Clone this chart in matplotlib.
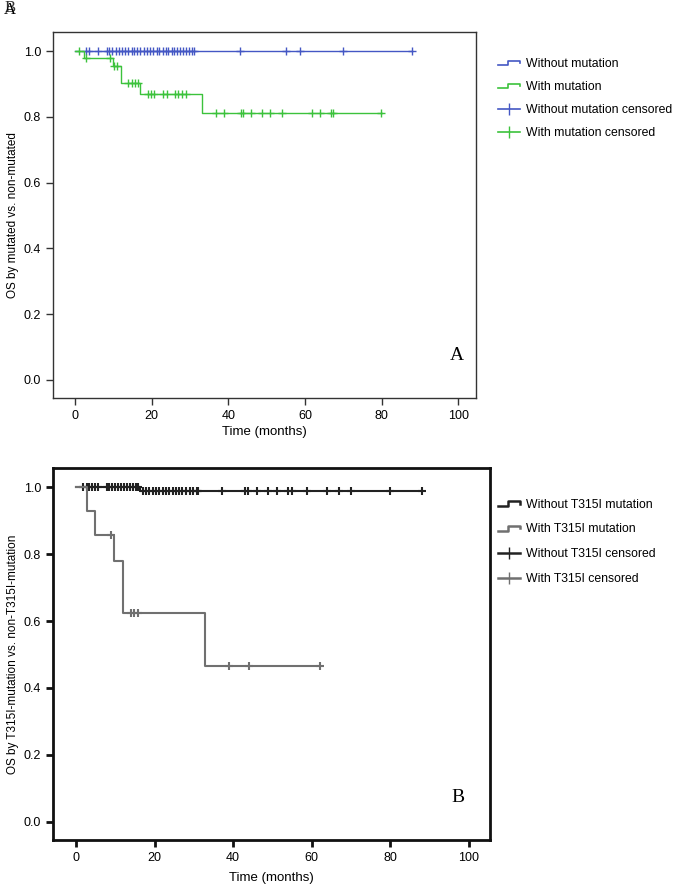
import numpy as np
import matplotlib.pyplot as plt
from matplotlib.lines import Line2D
from matplotlib.legend_handler import HandlerBase

plt.rcParams['font.family'] = ['Liberation Sans', 'DejaVu Sans']

# Panel A: all mutations
a_wo_times = [0, 88]
a_wo_surv = [1.0, 1.0]
a_wo_cens = [2.9, 3.7, 6.1, 8.3, 9.0, 9.7, 10.6, 11.5, 12.3, 13.1, 13.9, 14.8,
             15.5, 16.3, 17.1, 18.1, 18.7, 19.6, 20.4, 21.3, 22.0, 22.9, 23.7,
             24.4, 25.2, 25.9, 26.7, 27.4, 28.2, 28.9, 29.7, 30.5, 31.1,
             43.1, 55.1, 58.7, 69.9, 87.9]
a_w_times = [0, 2.3, 10.0, 11.9, 17.0, 33.1, 80.0]
a_w_surv = [1.0, 0.979, 0.955, 0.902, 0.869, 0.811, 0.811]
a_w_cens = [1.0, 2.9, 9.1, 10.3, 11.0, 13.9, 15.0, 15.7, 16.4, 19.0, 19.8, 20.7,
            23.1, 23.9, 26.1, 27.0, 27.8, 28.9, 36.8, 38.8, 43.2, 43.9, 45.9,
            48.7, 50.9, 53.9, 61.9, 64.0, 66.7, 67.2, 79.9]

# Panel B: T315I
b_wo_times = [0, 16.3, 88.2]
b_wo_surv = [1.0, 0.99, 0.99]
b_wo_cens = [1.7, 2.7, 3.4, 4.2, 4.9, 5.7, 7.8, 8.5, 9.2, 10.0, 10.8, 11.5, 12.3,
             13.1, 13.7, 14.6, 15.3, 15.9, 17.1, 17.8, 18.7, 19.5, 20.4, 21.2,
             22.1, 22.9, 23.7, 24.6, 25.4, 26.3, 27.1, 28.0, 29.0, 29.9, 30.7,
             31.1, 37.1, 43.0, 43.8, 46.0, 48.9, 51.1, 54.0, 54.9, 58.9, 63.9,
             67.0, 70.0, 79.9, 88.2]
b_w_times = [0, 2.7, 4.8, 9.7, 11.9, 32.8, 62.1]
b_w_surv = [1.0, 0.929, 0.857, 0.779, 0.623, 0.467, 0.467]
b_w_cens = [8.8, 13.9, 14.8, 15.9, 38.9, 44.0, 62.1]

labels_a = ['Without mutation', 'With mutation',
            'Without mutation censored', 'With mutation censored']
labels_b = ['Without T315I mutation', 'With T315I mutation',
            'Without T315I censored', 'With T315I censored']


def surv_at(times, surv, t):
    idx = np.searchsorted(times, t, side='right') - 1
    return np.asarray(surv)[idx]


class HandlerStep(HandlerBase):
    # little step glyph like the SPSS legend
    def create_artists(self, legend, orig_handle, xdescent, ydescent,
                       width, height, fontsize, trans):
        xs = np.array([0, 0.45, 0.45, 1.0, 1.0]) * width - xdescent
        ys = np.array([0.2, 0.2, 0.75, 0.75, 0.45]) * height - ydescent
        line = Line2D(xs, ys, color=orig_handle.get_color(),
                      lw=orig_handle.get_linewidth())
        line.set_transform(trans)
        return [line]


def km_panel(ax, curves, lw, spine_w, spine_c):
    for times, surv, cens, col in curves:
        ax.step(times, surv, where='post', color=col, lw=lw)
        ax.plot(cens, surv_at(times, surv, cens), linestyle='none', marker='+',
                color=col, markersize=6, markeredgewidth=lw)
    ax.set_xlim(-5.7, 104.6)
    ax.set_ylim(-0.055, 1.058)
    ax.set_xticks(np.arange(0, 101, 20))
    ax.set_yticks(np.arange(0, 1.01, 0.2))
    ax.set_yticklabels(['%.1f' % v for v in np.arange(0, 1.01, 0.2)])
    ax.tick_params(labelsize=9, length=5, width=spine_w, color=spine_c)
    for s in ax.spines.values():
        s.set_linewidth(spine_w)
        s.set_edgecolor(spine_c)
    ax.set_xlabel('Time (months)', fontsize=9.5, labelpad=3)


fig = plt.figure(figsize=(6.77, 8.88), dpi=100)

blue = '#4457c4'
green = '#3cc23c'
axA = fig.add_axes([0.0783, 0.552, 0.625, 0.412])
km_panel(axA, [(a_wo_times, a_wo_surv, a_wo_cens, blue),
               (a_w_times, a_w_surv, a_w_cens, green)], 1.0, 1.0, '#333333')
axA.set_ylabel('OS by mutated vs. non-mutated', fontsize=8.5)
axA.yaxis.set_label_coords(-0.08, 0.5)
axA.text(0.955, 0.115, 'A', transform=axA.transAxes, fontsize=14,
         family='Liberation Serif', ha='center', va='center')

hA = [Line2D([], [], color=blue, lw=1.2), Line2D([], [], color=green, lw=1.2),
      Line2D([], [], color=blue, lw=1.2, marker='|', markersize=9),
      Line2D([], [], color=green, lw=1.2, marker='|', markersize=9)]
fig.legend(hA, labels_a, loc='upper left', bbox_to_anchor=(0.719, 0.947),
           frameon=False, fontsize=8.8, handlelength=1.8, handletextpad=0.5,
           labelspacing=0.9,
           handler_map={hA[0]: HandlerStep(), hA[1]: HandlerStep()})

black = '#222222'
grey = '#707070'
axB = fig.add_axes([0.0783, 0.054, 0.645, 0.419])
km_panel(axB, [(b_wo_times, b_wo_surv, b_wo_cens, black),
               (b_w_times, b_w_surv, b_w_cens, grey)], 1.5, 2.0, '#111111')
axB.set_xlim(-5.85, 105.3)
axB.set_xlabel('Time (months)', fontsize=9.5, labelpad=6)
axB.set_ylabel('OS by T315I-mutation vs. non-T315I-mutation', fontsize=8.5)
axB.yaxis.set_label_coords(-0.077, 0.5)
axB.text(0.928, 0.115, 'B', transform=axB.transAxes, fontsize=14,
         family='Liberation Serif', ha='center', va='center')

hB = [Line2D([], [], color=black, lw=1.8), Line2D([], [], color=grey, lw=1.8),
      Line2D([], [], color=black, lw=1.8, marker='|', markersize=9),
      Line2D([], [], color=grey, lw=1.8, marker='|', markersize=9)]
fig.legend(hB, labels_b, loc='upper left', bbox_to_anchor=(0.719, 0.451),
           frameon=False, fontsize=8.8, handlelength=1.8, handletextpad=0.5,
           labelspacing=1.05,
           handler_map={hB[0]: HandlerStep(), hB[1]: HandlerStep()})

# overlapping corner labels as in the source image
fig.text(0.005, 0.998, 'A', fontsize=12, family='Liberation Serif', va='top')
fig.text(0.006, 1.0, 'B', fontsize=12, family='Liberation Serif', va='top',
         alpha=0.8)

fig.savefig('out.png', dpi=100)
